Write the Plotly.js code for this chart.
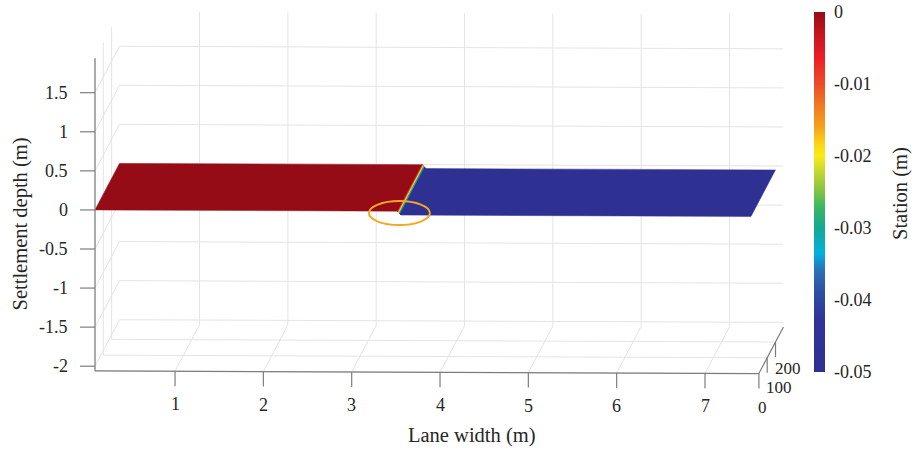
<!DOCTYPE html>
<html>
<head>
<meta charset="utf-8">
<script src="https://cdn.plot.ly/plotly-3.0.1.min.js"></script>
<style>
  html, body { margin: 0; padding: 0; background: #fff; }
  #chart { width: 914px; height: 449px; }
</style>
</head>
<body>
<div id="chart"></div>
<script>
// ---- data -------------------------------------------------------------
// Lane cross-section positions (m)
const laneWidth = [0.094, 3.52, 3.56, 7.52];
// Stations along the road (m)
const station = [0, 295];
// Settlement depth (m) at each lane position, first and last station
const settlementAtStart = [0, 0, -0.05, -0.05];
const settlementAtEnd = [0, 0, -0.05, -0.05];

// axis limits and ticks
const xRange = [0.094, 7.61];
const yRange = [0, 295];
const zRange = [-2.06, 1.94];
const xTicks = [1, 2, 3, 4, 5, 6, 7];
const yTicks = [0, 100, 200];
const zTicks = [-2, -1.5, -1, -0.5, 0, 0.5, 1, 1.5];
const cbTicks = [-0.05, -0.04, -0.03, -0.02, -0.01, 0];

// colour map for settlement (low -> high)
const colorMap = [
  [0.00, '#2e3192'], [0.15, '#31339a'], [0.22, '#2d4fa1'], [0.28, '#2a6fb6'],
  [0.33, '#04b0e0'], [0.40, '#14a993'], [0.46, '#3db760'], [0.51, '#8cc63f'],
  [0.56, '#c9d92b'], [0.60, '#f8ec17'], [0.64, '#fbcf16'], [0.68, '#f5a21c'],
  [0.74, '#f07a22'], [0.80, '#eb4d27'], [0.87, '#ec2027'], [0.94, '#c6141d'],
  [1.00, '#950c17']
];
const cMin = -0.05, cMax = 0;

// ---- 3-D view: oblique projection onto screen pixels --------------------
const VIEW = {
  ox: 86.7, kx: 88.33,      // lane width -> horizontal
  oy: 209.9, tilt: 0.35,    // slight downward tilt of the lane-width axis
  kz: 78.14,                // settlement -> vertical
  sx: 24.5 / 295, sy: 46.5 / 295  // station recedes up and to the right
};
function proj(x, y, z) {
  return [VIEW.ox + VIEW.kx * x + VIEW.sx * y,
          VIEW.oy + VIEW.tilt * x - VIEW.kz * z - VIEW.sy * y];
}

const serif = 'Liberation Serif, Times New Roman, serif';
const textColor = '#262626';
const axisColor = '#7d7d7d';
const gridColor = '#e4e4e4';
const tickFont = { family: serif, size: 18, color: textColor };
const stationTickFont = { family: serif, size: 17, color: textColor };
const titleFont = { family: serif, size: 20.5, color: textColor };

function hexToRgb(h) {
  return [parseInt(h.slice(1, 3), 16), parseInt(h.slice(3, 5), 16), parseInt(h.slice(5, 7), 16)];
}
function colorAt(v) {
  let t = (v - cMin) / (cMax - cMin);
  t = Math.max(0, Math.min(1, t));
  for (let i = 1; i < colorMap.length; i++) {
    if (t <= colorMap[i][0]) {
      const [t0, c0] = colorMap[i - 1], [t1, c1] = colorMap[i];
      const f = (t - t0) / (t1 - t0 || 1);
      const a = hexToRgb(c0), b = hexToRgb(c1);
      const rgb = a.map((ch, k) => Math.round(ch + (b[k] - ch) * f));
      return 'rgb(' + rgb.join(',') + ')';
    }
  }
  return colorMap[colorMap.length - 1][1];
}

// polyline helper: segments separated by nulls
function segs(list, color, width) {
  const xs = [], ys = [];
  list.forEach(([a, b]) => {
    const p = proj(...a), q = proj(...b);
    xs.push(p[0], q[0], null);
    ys.push(p[1], q[1], null);
  });
  return { type: 'scatter', mode: 'lines', x: xs, y: ys, hoverinfo: 'skip',
           line: { color: color, width: width }, showlegend: false };
}

const [x0, x1] = xRange, [y0, y1] = yRange, [z0, z1] = zRange;
const traces = [];

// ---- grid on the back planes ------------------------------------------
const grid = [];
xTicks.forEach(t => grid.push([[t, y1, z0], [t, y1, z1]]));          // back wall
zTicks.forEach(t => grid.push([[x0, y1, t], [x1, y1, t]]));
yTicks.forEach(t => grid.push([[x0, t, z0], [x0, t, z1]]));          // left wall
zTicks.forEach(t => grid.push([[x0, y0, t], [x0, y1, t]]));
xTicks.forEach(t => grid.push([[t, y0, z0], [t, y1, z0]]));          // floor
yTicks.forEach(t => grid.push([[x0, t, z0], [x1, t, z0]]));
traces.push(segs(grid, gridColor, 1));

// ---- settlement surface, interpolated shading ---------------------------
const surfaceZ = [settlementAtStart, settlementAtEnd];
for (let i = 0; i < station.length - 1; i++) {
  for (let j = 0; j < laneWidth.length - 1; j++) {
    const za = surfaceZ[i][j], zb = surfaceZ[i][j + 1];
    const zc = surfaceZ[i + 1][j], zd = surfaceZ[i + 1][j + 1];
    const flat = za === zb && zc === zd && za === zc;
    const n = flat ? 1 : 24;
    for (let k = 0; k < n; k++) {
      const f0 = k / n, f1 = (k + 1) / n;
      const xa = laneWidth[j] + (laneWidth[j + 1] - laneWidth[j]) * f0;
      const xb = laneWidth[j] + (laneWidth[j + 1] - laneWidth[j]) * f1;
      const zA0 = za + (zb - za) * f0, zA1 = za + (zb - za) * f1;
      const zB0 = zc + (zd - zc) * f0, zB1 = zc + (zd - zc) * f1;
      const corners = [
        proj(xa, station[i], zA0), proj(xb, station[i], zA1),
        proj(xb, station[i + 1], zB1), proj(xa, station[i + 1], zB0)
      ];
      const col = colorAt((zA0 + zA1 + zB0 + zB1) / 4);
      traces.push({
        type: 'scatter', mode: 'lines', fill: 'toself', fillcolor: col,
        x: corners.map(c => c[0]).concat(corners[0][0]),
        y: corners.map(c => c[1]).concat(corners[0][1]),
        line: { color: col, width: flat ? 0.5 : 0.8 },
        hoverinfo: 'skip', showlegend: false
      });
    }
  }
}

// ---- axis lines and tick marks -----------------------------------------
traces.push(segs([
  [[x0, y0, z0], [x0, y0, z1]],   // settlement axis
  [[x0, y0, z0], [x1, y0, z0]],   // lane width axis
  [[x1, y0, z0], [x1, y1, z0]]    // station axis
], axisColor, 1.2));

const tickX = [], tickY = [];
const TL = 15;
zTicks.forEach(t => { const p = proj(x0, y0, t); tickX.push(p[0], p[0] - TL, null); tickY.push(p[1], p[1], null); });
xTicks.forEach(t => { const p = proj(t, y0, z0); tickX.push(p[0], p[0], null); tickY.push(p[1], p[1] + TL, null); });
yTicks.forEach(t => { const p = proj(x1, t, z0); tickX.push(p[0], p[0], null); tickY.push(p[1], p[1] + TL, null); });
traces.push({ type: 'scatter', mode: 'lines', x: tickX, y: tickY, hoverinfo: 'skip',
              line: { color: axisColor, width: 1.2 }, showlegend: false });

// ---- colour bar carrier (vertices of the surface) -------------------------
const vx = [], vy = [], vc = [];
surfaceZ.forEach((row, i) => row.forEach((z, j) => {
  const p = proj(laneWidth[j], station[i], z);
  vx.push(p[0]); vy.push(p[1]); vc.push(z);
}));
traces.push({
  type: 'scatter', mode: 'markers', x: vx, y: vy, hoverinfo: 'skip', showlegend: false,
  marker: {
    size: 1, opacity: 0, color: vc, cmin: cMin, cmax: cMax,
    colorscale: colorMap, showscale: true,
    colorbar: {
      x: 814 / 914, xanchor: 'left', xpad: 0,
      y: 1 - 192 / 449, yanchor: 'middle', ypad: 0,
      len: 360, lenmode: 'pixels', thickness: 11,
      outlinewidth: 0,
      tickvals: cbTicks, ticktext: cbTicks.map(String),
      ticks: 'outside', ticklen: 6, tickcolor: 'rgba(0,0,0,0)',
      tickfont: tickFont
    }
  }
});

// ---- tick labels and titles --------------------------------------------
const ann = [];
zTicks.forEach(t => {
  const p = proj(x0, y0, t);
  ann.push({ x: p[0] - 26, y: p[1], text: String(t), xanchor: 'right', yanchor: 'middle', font: tickFont });
});
xTicks.forEach(t => {
  const p = proj(t, y0, z0);
  ann.push({ x: p[0], y: p[1] + 33, text: String(t), xanchor: 'center', yanchor: 'middle', font: tickFont });
});
// station labels fan out below the receding axis so they stay clear of each other
yTicks.forEach(t => {
  const p = proj(x1, t, z0);
  ann.push({ x: p[0] - 2, y: p[1] + 34 - 0.04 * t, text: String(t), xanchor: 'left', yanchor: 'middle',
             font: stationTickFont });
});
ann.forEach(a => { a.xref = 'x'; a.yref = 'y'; a.showarrow = false; a.borderpad = 0; });

ann.push({ x: 472, y: 435, xref: 'x', yref: 'y', text: 'Lane width (m)', showarrow: false,
           xanchor: 'center', yanchor: 'middle', font: titleFont });
ann.push({ x: 19.5, y: 224, xref: 'x', yref: 'y', text: 'Settlement depth (m)', showarrow: false,
           textangle: -90, xanchor: 'center', yanchor: 'middle', font: titleFont });
ann.push({ x: 900, y: 194, xref: 'x', yref: 'y', text: 'Station (m)', showarrow: false,
           textangle: -90, xanchor: 'center', yanchor: 'middle', font: titleFont });

// highlight ring around the step at the first station
const stepJ = settlementAtStart.findIndex((v, j) => j > 0 && v !== settlementAtStart[j - 1]);
const ringC = proj((laneWidth[stepJ - 1] + laneWidth[stepJ]) / 2, station[0],
                   (settlementAtStart[stepJ - 1] + settlementAtStart[stepJ]) / 2);

const layout = {
  width: 914, height: 449,
  margin: { l: 0, r: 0, t: 0, b: 0 },
  paper_bgcolor: '#ffffff', plot_bgcolor: '#ffffff',
  showlegend: false,
  xaxis: { range: [0, 914], visible: false, fixedrange: true },
  yaxis: { range: [449, 0], visible: false, fixedrange: true },
  annotations: ann,
  shapes: [{
    type: 'circle', xref: 'x', yref: 'y',
    x0: ringC[0] - 30.5, x1: ringC[0] + 30.5,
    y0: ringC[1] - 12, y1: ringC[1] + 12,
    line: { color: '#f5a81f', width: 2 }
  }]
};

Plotly.newPlot('chart', traces, layout, { displayModeBar: false, staticPlot: true });
</script>
</body>
</html>
